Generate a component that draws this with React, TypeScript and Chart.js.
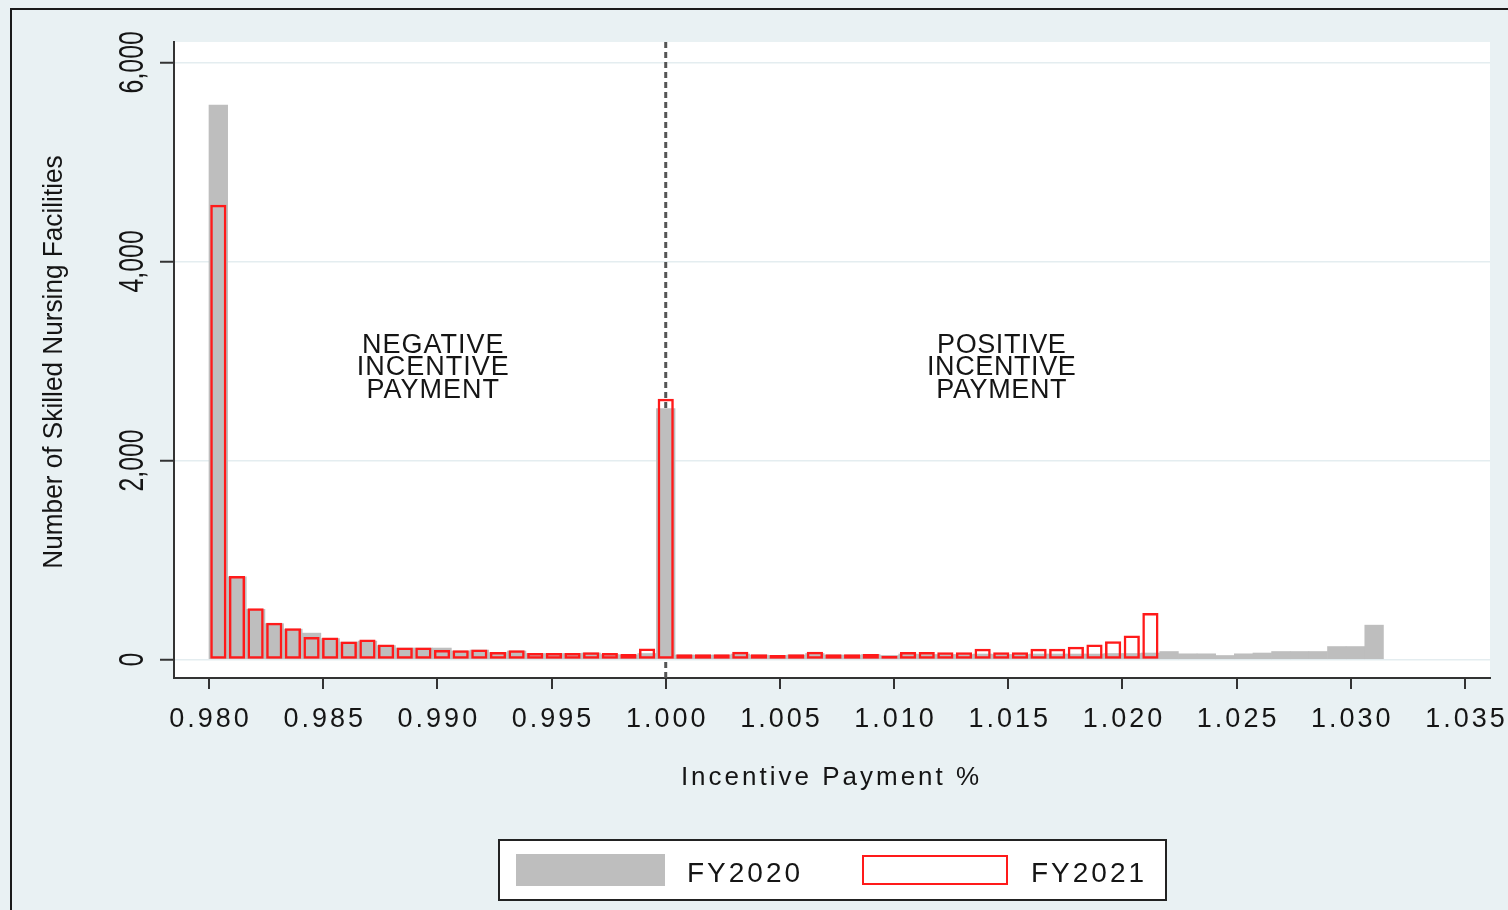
import React, { useEffect, useRef } from 'react';
import { Chart, registerables } from 'chart.js';

Chart.register(...registerables);

// Histogram bins: 63 equal bins starting at 0.980 (the 1.000 spike is a bin centre)
const BIN_START = 0.98;
const BIN_WIDTH = 0.02 / 24.5;

const FY2020 = [
  5570, 830, 505, 360, 305, 265, 210, 175, 185, 140,
  115, 115, 115, 85, 95, 70, 85, 60, 60, 60,
  65, 50, 45, 60, 2520,
  45, 45, 45, 55, 45, 40, 45, 60, 45, 45,
  50, 40, 55, 50, 50, 50, 55, 50, 50, 55,
  55, 55, 55, 60, 60, 65,
  80, 57, 57, 40, 57, 65, 80, 80, 80, 130, 130, 345,
];

const FY2021 = [
  4570, 840, 515, 370, 315, 225, 220, 180, 200, 150,
  120, 120, 95, 93, 100, 76, 93, 66, 66, 66,
  72, 66, 55, 110, 2620,
  52, 52, 52, 78, 52, 45, 52, 78, 52, 52,
  55, 38, 75, 75, 73, 73, 107, 73, 73, 107,
  107, 127, 150, 183, 240, 467,
];

const X_TICKS = [0.98, 0.985, 0.99, 0.995, 1.0, 1.005, 1.01, 1.015, 1.02, 1.025, 1.03, 1.035];
const Y_TICKS = [0, 2000, 4000, 6000];
const Y_TICK_LABELS = ['0', '2,000', '4,000', '6,000'];
const X_TITLE = 'Incentive Payment %';
const Y_TITLE = 'Number of Skilled Nursing Facilities';
const NEG_LABEL = ['NEGATIVE', 'INCENTIVE', 'PAYMENT'];
const POS_LABEL = ['POSITIVE', 'INCENTIVE', 'PAYMENT'];
const SERIES_NAMES = ['FY2020', 'FY2021'];
const THRESHOLD = 1.0;

const GRAY = '#bebebe';
const RED = '#ff1a1a';
const FONT = '"Liberation Sans", Arial, sans-serif';

const toPoints = (vals: number[]) =>
  vals.map((v, i) => ({ x: BIN_START + (i + 0.5) * BIN_WIDTH, y: v }));

function drawText(
  ctx: CanvasRenderingContext2D,
  s: string,
  x: number,
  y: number,
  size: number,
  spacing: number,
  align: CanvasTextAlign = 'center'
) {
  ctx.save();
  ctx.font = `${size}px ${FONT}`;
  (ctx as any).letterSpacing = `${spacing}px`;
  ctx.textAlign = align;
  ctx.textBaseline = 'alphabetic';
  ctx.fillStyle = '#151515';
  const dx = align === 'center' ? spacing / 2 : 0;
  ctx.fillText(s, x + dx, y);
  ctx.restore();
}

function drawRotated(
  ctx: CanvasRenderingContext2D,
  s: string,
  x: number,
  y: number,
  size: number,
  squeeze: number
) {
  ctx.save();
  ctx.translate(x, y);
  ctx.rotate(-Math.PI / 2);
  ctx.scale(squeeze, 1);
  ctx.font = `${size}px ${FONT}`;
  ctx.textAlign = 'center';
  ctx.textBaseline = 'alphabetic';
  ctx.fillStyle = '#151515';
  ctx.fillText(s, 0, 0);
  ctx.restore();
}

const decorPlugin = {
  id: 'decor',
  beforeDraw(chart: any) {
    const { ctx, chartArea: a, width, height } = chart;
    ctx.save();
    ctx.fillStyle = '#e9f1f3';
    ctx.fillRect(0, 0, width, height);
    ctx.strokeStyle = '#1a1a1a';
    ctx.lineWidth = 2;
    ctx.strokeRect(11, 9, width + 40, height + 40);
    ctx.fillStyle = '#ffffff';
    ctx.fillRect(a.left, a.top, a.right - a.left, a.bottom - a.top);
    ctx.restore();
  },
  beforeDatasetsDraw(chart: any) {
    const { ctx, chartArea: a } = chart;
    const x = chart.scales.x.getPixelForValue(THRESHOLD);
    ctx.save();
    ctx.strokeStyle = '#555555';
    ctx.lineWidth = 3;
    ctx.setLineDash([6, 4]);
    ctx.beginPath();
    ctx.moveTo(x, a.top);
    ctx.lineTo(x, a.bottom);
    ctx.stroke();
    ctx.restore();
  },
  afterDraw(chart: any) {
    const { ctx } = chart;
    const xs = chart.scales.x;
    const ys = chart.scales.y;

    // x tick labels
    X_TICKS.forEach((v) => {
      drawText(ctx, v.toFixed(3), xs.getPixelForValue(v), 727, 27, 3);
    });
    // y tick labels (rotated)
    Y_TICKS.forEach((v, i) => {
      drawRotated(ctx, Y_TICK_LABELS[i], 143, ys.getPixelForValue(v), 35, 0.71);
    });
    // axis titles
    drawText(ctx, X_TITLE, 830, 785, 26, 3);
    drawRotated(ctx, Y_TITLE, 62, 362, 27, 0.97);

    // annotations
    const negX = xs.getPixelForValue(0.9898);
    const posX = xs.getPixelForValue(1.0147);
    const baseY = [353, 375, 398];
    NEG_LABEL.forEach((s, i) => drawText(ctx, s, negX, baseY[i], 27, 1));
    POS_LABEL.forEach((s, i) => drawText(ctx, s, posX, baseY[i], 27, 0.6));

    // legend
    ctx.save();
    ctx.fillStyle = '#ffffff';
    ctx.fillRect(499, 840, 667, 60);
    ctx.strokeStyle = '#222222';
    ctx.lineWidth = 2;
    ctx.strokeRect(499, 840, 667, 60);
    ctx.fillStyle = GRAY;
    ctx.fillRect(516, 854, 149, 32);
    ctx.strokeStyle = RED;
    ctx.lineWidth = 2;
    ctx.strokeRect(863, 856, 144, 28);
    ctx.restore();
    drawText(ctx, SERIES_NAMES[0], 687, 882, 28, 3, 'left');
    drawText(ctx, SERIES_NAMES[1], 1031, 882, 28, 3, 'left');
  },
};

export default function App() {
  const ref = useRef<HTMLCanvasElement | null>(null);

  useEffect(() => {
    if (!ref.current) return;
    const chart = new Chart(ref.current, {
      type: 'bar',
      data: {
        datasets: [
          {
            label: SERIES_NAMES[0],
            data: toPoints(FY2020) as any,
            backgroundColor: GRAY,
            borderWidth: 0,
            barPercentage: 1,
            categoryPercentage: 1,
            grouped: false,
            order: 2,
          } as any,
          {
            label: SERIES_NAMES[1],
            data: toPoints(FY2021) as any,
            backgroundColor: 'rgba(0,0,0,0)',
            borderColor: RED,
            borderWidth: 2.5,
            borderSkipped: false,
            barPercentage: 0.87,
            categoryPercentage: 1,
            grouped: false,
            order: 1,
          } as any,
        ],
      },
      options: {
        responsive: false,
        animation: false,
        layout: { padding: { left: 0, right: 18, top: 42, bottom: 0 } },
        plugins: { legend: { display: false }, tooltip: { enabled: false } },
        scales: {
          x: {
            type: 'linear',
            offset: false,
            min: 0.9784673,
            max: 1.0360948,
            afterBuildTicks: (s: any) => {
              s.ticks = X_TICKS.map((v) => ({ value: v }));
            },
            afterFit: (s: any) => {
              s.height = 232;
            },
            ticks: { display: false },
            grid: {
              offset: false,
              drawOnChartArea: false,
              drawTicks: true,
              tickLength: 11,
              color: '#333333',
              lineWidth: 2,
            },
            border: { color: '#333333', width: 2 },
          },
          y: {
            type: 'linear',
            min: -186,
            max: 6204,
            afterBuildTicks: (s: any) => {
              s.ticks = Y_TICKS.map((v) => ({ value: v }));
            },
            afterFit: (s: any) => {
              s.width = 174;
            },
            ticks: { display: false },
            grid: {
              color: '#e4edf0',
              lineWidth: 1.5,
              drawTicks: true,
              tickLength: 14,
              tickColor: '#333333',
              tickWidth: 2,
            },
            border: { color: '#333333', width: 2 },
          },
        },
      } as any,
      plugins: [decorPlugin],
    });
    return () => chart.destroy();
  }, []);

  return (
    <div style={{ position: 'absolute', left: 0, top: 0, width: 1508, height: 910 }}>
      <canvas ref={ref} width={1508} height={910} style={{ display: 'block' }} />
    </div>
  );
}
